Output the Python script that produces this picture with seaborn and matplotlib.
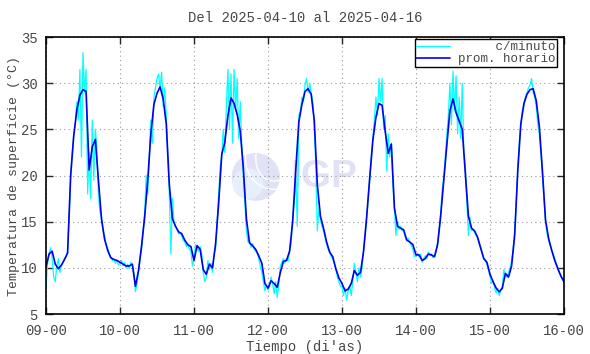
import matplotlib
matplotlib.use("Agg")
import matplotlib.pyplot as plt
import matplotlib.dates as mdates
from matplotlib.patches import Ellipse, Arc
import pandas as pd
import seaborn as sns

sns.set_style("ticks")
plt.rcParams["font.family"] = ["Liberation Mono", "DejaVu Sans Mono"]
plt.rcParams["font.size"] = 10

# hourly mean (prom. horario), one list per day, starting 2025-04-09 00h
hourly_d1 = [10.1, 11.5, 11.8, 10.4, 9.9, 10.3, 10.9, 11.6, 20.0, 24.3, 27.1, 28.7,
             29.3, 29.1, 20.6, 23.1, 23.9, 19.5, 15.3, 13.1, 11.9, 11.1, 10.9, 10.8]
hourly_d2 = [10.6, 10.4, 10.2, 10.2, 10.4, 8.0, 9.7, 12.4, 15.5, 19.5, 24.5, 27.7,
             28.9, 29.6, 28.3, 25.6, 19.0, 15.3, 14.5, 13.9, 13.7, 13.0, 12.5, 12.3]
hourly_d3 = [10.8, 12.4, 12.0, 9.8, 9.3, 10.4, 10.0, 12.6, 17.0, 22.3, 23.6, 26.5,
             28.4, 27.8, 26.6, 24.8, 20.8, 15.3, 12.7, 12.4, 12.0, 11.3, 10.5, 8.3]
hourly_d4 = [7.8, 8.6, 8.3, 7.9, 9.5, 10.7, 10.8, 11.8, 15.0, 20.6, 25.8, 27.7,
             29.1, 29.4, 28.8, 26.0, 19.0, 15.6, 14.3, 12.8, 11.7, 11.2, 9.9, 8.9]
hourly_d5 = [8.3, 7.5, 7.7, 8.3, 9.7, 9.2, 9.5, 11.8, 15.5, 19.8, 23.8, 26.3,
             27.8, 27.6, 24.8, 22.4, 23.4, 16.5, 14.5, 14.3, 14.1, 13.0, 12.8, 12.5]
hourly_d6 = [11.4, 11.4, 10.8, 11.0, 11.5, 11.4, 11.2, 12.5, 15.6, 19.5, 23.3, 27.0,
             28.3, 26.8, 25.9, 25.0, 20.2, 15.6, 14.3, 14.0, 13.3, 12.1, 11.0, 10.6]
hourly_d7 = [9.3, 8.5, 7.8, 7.4, 7.8, 9.4, 9.0, 10.2, 13.5, 20.5, 25.6, 27.8,
             28.8, 29.3, 29.4, 28.1, 25.3, 20.5, 15.2, 13.2, 11.9, 10.8, 9.9, 9.1, 8.5]

minute_d1 = [7.8, 10.5, 11.5, 12.2, 11.0, 9.0, 8.5, 10.2,
             11.0, 9.5, 10.2, 10.6, 11.0, 11.2, 11.8, 15.5,
             20.0, 22.5, 24.5, 25.5, 28.0, 26.0, 31.5, 22.0,
             33.3, 29.0, 31.5, 18.0, 22.5, 17.5, 26.0, 19.5,
             25.0, 23.0, 18.0, 16.0, 15.5, 14.0, 13.5, 12.5,
             12.2, 11.5, 11.2, 10.8, 11.0, 10.5, 10.8, 10.3]
minute_d2 = [10.5, 10.8, 10.2, 10.6, 10.0, 10.4, 9.9, 10.6,
             10.3, 9.5, 7.4, 8.2, 9.5, 11.0, 12.0, 14.0,
             16.0, 20.0, 18.0, 22.0, 26.0, 23.5, 28.5, 29.5,
             30.5, 31.0, 29.5, 31.2, 27.5, 29.5, 26.5, 22.0,
             18.0, 11.5, 17.5, 15.0, 14.5, 14.2, 13.7, 13.8,
             13.5, 13.0, 12.8, 12.3, 12.6, 12.0, 11.8, 10.2]
minute_d3 = [11.0, 12.5, 12.2, 11.8, 12.3, 11.5, 9.5, 8.5,
             9.0, 10.8, 9.8, 10.5, 9.5, 11.5, 12.0, 15.0,
             18.0, 21.0, 22.0, 25.0, 22.5, 27.5, 31.5, 25.0,
             31.0, 23.5, 31.5, 27.0, 30.5, 24.0, 28.0, 23.0,
             20.0, 17.0, 14.0, 12.8, 13.0, 12.2, 12.6, 12.0,
             11.8, 11.6, 11.0, 10.2, 9.5, 8.5, 7.5, 8.2]
minute_d4 = [7.6, 8.0, 9.0, 8.3, 7.2, 8.5, 6.8, 8.2,
             10.2, 10.6, 11.0, 10.5, 11.0, 10.7, 11.8, 12.5,
             15.5, 17.0, 20.0, 14.5, 26.5, 27.0, 28.5, 28.0,
             29.8, 30.5, 29.0, 30.0, 29.0, 28.0, 25.5, 21.0,
             14.0, 16.5, 15.2, 14.5, 14.0, 13.3, 12.6, 12.0,
             11.8, 11.2, 11.0, 10.5, 9.8, 9.0, 8.5, 8.0]
minute_d5 = [8.0, 7.0, 7.8, 6.5, 7.5, 8.0, 7.0, 8.5,
             10.5, 9.5, 8.5, 10.0, 9.0, 10.0, 12.0, 13.5,
             15.5, 17.5, 19.5, 22.0, 24.0, 26.0, 28.5, 26.5,
             30.5, 28.0, 30.5, 25.0, 26.5, 20.5, 24.5, 22.0,
             23.5, 19.0, 16.5, 13.5, 15.0, 14.2, 14.5, 14.0,
             14.2, 13.3, 13.0, 13.2, 12.7, 12.4, 12.0, 11.2]
minute_d6 = [11.3, 11.6, 11.2, 11.5, 10.6, 11.0, 11.3, 11.0,
             11.7, 11.3, 11.5, 11.1, 11.3, 11.8, 12.8, 14.0,
             16.0, 18.5, 19.8, 22.0, 24.5, 26.5, 30.0, 25.5,
             31.3, 27.0, 30.8, 24.5, 28.5, 24.0, 30.0, 22.5,
             21.0, 17.0, 13.5, 15.5, 14.0, 14.2, 13.8, 13.5,
             13.2, 12.6, 12.3, 11.5, 11.0, 10.8, 10.4, 9.8]
minute_d7 = [9.0, 8.3, 8.6, 7.8, 7.3, 7.8, 7.0, 7.6,
             8.0, 9.8, 9.2, 9.0, 9.5, 10.0, 10.8, 12.0,
             14.0, 17.0, 20.5, 23.5, 25.5, 27.0, 27.5, 28.5,
             29.0, 29.5, 29.8, 30.5, 29.0, 28.5, 27.5, 25.5,
             24.5, 22.5, 20.0, 17.5, 15.0, 13.7, 13.0, 12.5,
             12.0, 11.5, 11.0, 10.5, 10.0, 9.5, 9.2, 8.7,
             8.5]

y_ticks = [5, 10, 15, 20, 25, 30, 35]

hourly = hourly_d1 + hourly_d2 + hourly_d3 + hourly_d4 + hourly_d5 + hourly_d6 + hourly_d7
minute = minute_d1 + minute_d2 + minute_d3 + minute_d4 + minute_d5 + minute_d6 + minute_d7

t0 = pd.Timestamp("2025-04-09 00:00")
t_hour = pd.date_range(t0, periods=len(hourly), freq="h")
t_min = pd.date_range(t0, periods=len(minute), freq="30min")

df_h = pd.DataFrame({"t": t_hour, "T": hourly})
df_m = pd.DataFrame({"t": t_min, "T": minute})

txt = "#474747"
fig = plt.figure(figsize=(5.9, 3.54), dpi=100)
ax = fig.add_axes([46 / 590, 40 / 354, 518 / 590, 277 / 354])

# IGP watermark
ax.add_patch(Ellipse((0.405, 0.495), 0.093, 0.173, transform=ax.transAxes,
                     facecolor="#e2e2f6", edgecolor="none", zorder=0))
ax.add_patch(Ellipse((0.39, 0.47), 0.06, 0.11, transform=ax.transAxes,
                     facecolor="#e6f0fc", edgecolor="none", zorder=0))
for w, h in [(0.07, 0.16), (0.11, 0.22)]:
    ax.add_patch(Arc((0.44, 0.56), w, h, theta1=150, theta2=280, transform=ax.transAxes,
                     color="white", lw=1.0, zorder=0))
ax.text(0.537, 0.495, "IGP", transform=ax.transAxes, ha="center", va="center",
        fontsize=28, fontweight="bold", family="Liberation Sans", color="#e2e2f6", zorder=0)

sns.lineplot(data=df_m, x="t", y="T", ax=ax, color="#00ffff", lw=0.9,
             label="     c/minuto", sort=False)
sns.lineplot(data=df_h, x="t", y="T", ax=ax, color="#0000ee", lw=1.2,
             label="prom. horario", sort=False)

ax.set_xlim(t0, t0 + pd.Timedelta(days=7))
ax.set_ylim(5, 35)
ax.set_yticks(y_ticks)
ax.xaxis.set_major_locator(mdates.DayLocator())
ax.xaxis.set_major_formatter(mdates.DateFormatter("%d-%H"))

ax.grid(True, linestyle=(0, (1, 3)), color="#9a9a9a", lw=0.8)
ax.tick_params(direction="in", top=True, right=True, length=5, width=1,
               labelcolor=txt, labelsize=10)
ax.tick_params(axis="y", pad=6)
ax.tick_params(axis="x", pad=7)
for s in ax.spines.values():
    s.set_color("black")
    s.set_linewidth(1.2)

ax.set_title("Del 2025-04-10 al 2025-04-16", color=txt, fontsize=10, pad=11)
ax.set_xlabel("Tiempo (di'as)", color=txt, labelpad=2)
ax.set_ylabel("Temperatura de superficie (°C)", color=txt, fontsize=9.5, labelpad=1)

leg = ax.legend(loc="upper right", bbox_to_anchor=(0.9865, 0.992), borderaxespad=0,
                frameon=True, fancybox=False, framealpha=1, edgecolor="black",
                handlelength=2.7, handletextpad=0.6, labelspacing=0.0,
                borderpad=0.15, fontsize=9)
leg.get_frame().set_linewidth(1.0)
for t in leg.get_texts():
    t.set_color(txt)

fig.savefig("out.png", dpi=100)
